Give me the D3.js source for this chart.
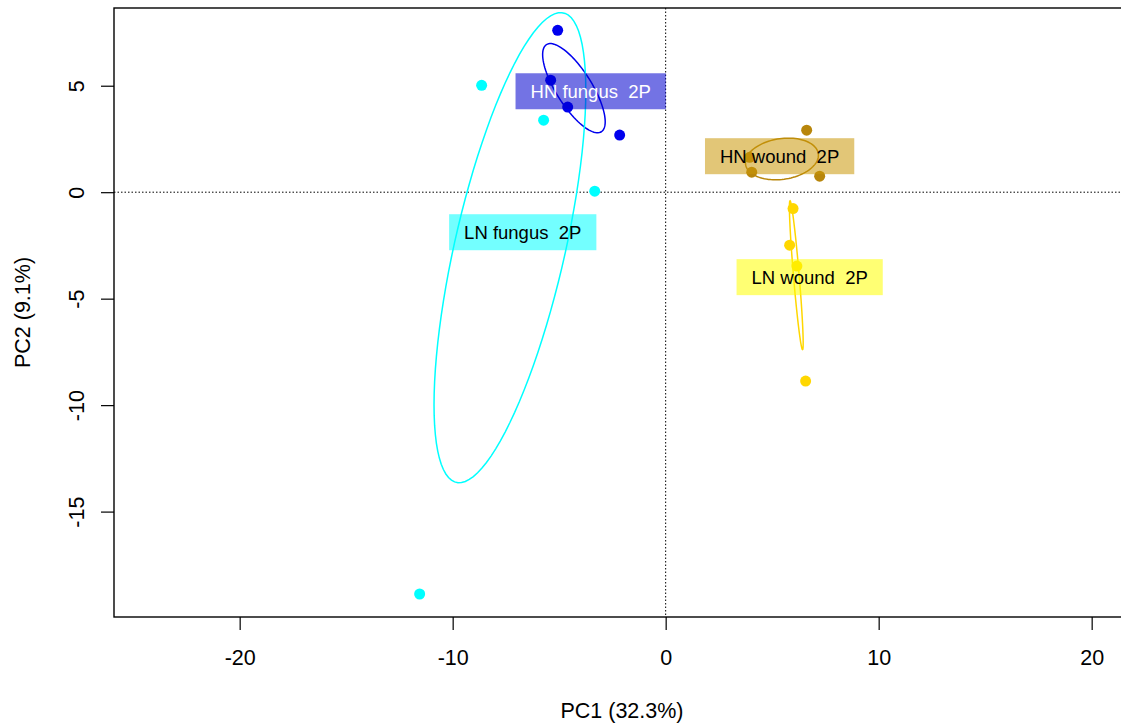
<!DOCTYPE html>
<html lang="en">
<head>
<meta charset="UTF-8">
<title>PCA</title>
<script src="https://cdn.jsdelivr.net/npm/d3@7"></script>
<style>
  body { margin: 0; background: #fff; }
  svg { display: block; font-family: "Liberation Sans", Arial, sans-serif; }
  .lbl { white-space: pre; }
</style>
</head>
<body>
<svg id="chart" width="1121" height="727"></svg>
<script>
// groups
const groups = ["HN fungus", "LN fungus", "HN wound", "LN wound"];
const colors = ["#0000EE", "#00FFFF", "#B8860B", "#FFD700"];
const boxColors = ["#0000CD", "#00FFFF", "#CA9708", "#FFFF00"];
const textColors = ["#ffffff", "#000000", "#000000", "#000000"];

// sample scores, one array per group
const pc1 = [
  [-5.07, -5.40, -4.60, -2.16],
  [-8.64, -5.73, -3.33, -11.55],
  [6.62, 3.94, 4.04, 7.23],
  [5.98, 5.82, 6.16, 6.57]
];
const pc2 = [
  [7.60, 5.26, 4.00, 2.68],
  [5.02, 3.38, 0.05, -18.87],
  [2.91, 1.64, 0.94, 0.75],
  [-0.77, -2.49, -3.47, -8.87]
];

// where the group labels sit (data units)
const labelX = [-3.52, -6.71, 5.35, 6.76];
const labelY = [4.74, -1.88, 1.69, -3.99];

const xTicks = [-20, -10, 0, 10, 20];
const yTicks = [-15, -10, -5, 0, 5];
const xlim = [-25.9, 21.8];
const ylim = [-19.95, 8.65];

const svg = d3.select("#chart");
const mLeft = 114, mTop = 8, mBottom = 617;
const pxPerUnit = 21.3;
const mRight = mLeft + (xlim[1] - xlim[0]) * pxPerUnit;

const x = d3.scaleLinear().domain(xlim).range([mLeft, mRight]);
const y = d3.scaleLinear().domain(ylim).range([mBottom, mTop]);

// crosshair
svg.append("line")
  .attr("x1", x(0)).attr("x2", x(0)).attr("y1", mTop).attr("y2", mBottom)
  .attr("stroke", "#000").attr("stroke-width", 1).attr("stroke-dasharray", "1.5,2");
svg.append("line")
  .attr("x1", mLeft).attr("x2", mRight).attr("y1", y(0)).attr("y2", y(0))
  .attr("stroke", "#000").attr("stroke-width", 1).attr("stroke-dasharray", "1.5,2");

// 1-sd ellipse from the group covariance
function ellipse(xs, ys) {
  const n = xs.length;
  const mx = d3.mean(xs), my = d3.mean(ys);
  let sxx = 0, syy = 0, sxy = 0;
  for (let i = 0; i < n; i++) {
    sxx += (xs[i] - mx) ** 2;
    syy += (ys[i] - my) ** 2;
    sxy += (xs[i] - mx) * (ys[i] - my);
  }
  sxx /= n - 1; syy /= n - 1; sxy /= n - 1;
  // cholesky
  const l11 = Math.sqrt(sxx);
  const l21 = sxy / l11;
  const l22 = Math.sqrt(Math.max(syy - l21 * l21, 0));
  return d3.range(0, 101).map(k => {
    const t = k / 100 * 2 * Math.PI;
    const c = Math.cos(t), s = Math.sin(t);
    return [mx + l11 * c, my + l21 * c + l22 * s];
  });
}

const line = d3.line().x(d => x(d[0])).y(d => y(d[1]));

groups.forEach((g, i) => {
  svg.append("path")
    .attr("d", line(ellipse(pc1[i], pc2[i])))
    .attr("fill", "none")
    .attr("stroke", colors[i])
    .attr("stroke-width", 1.5);
});

groups.forEach((g, i) => {
  svg.selectAll(null)
    .data(d3.range(pc1[i].length))
    .enter().append("circle")
    .attr("cx", k => x(pc1[i][k]))
    .attr("cy", k => y(pc2[i][k]))
    .attr("r", 5.5)
    .attr("fill", colors[i]);
});

// labels
groups.forEach((g, i) => {
  const gg = svg.append("g");
  const t = gg.append("text")
    .attr("class", "lbl")
    .attr("x", x(labelX[i]))
    .attr("y", y(labelY[i]))
    .attr("dy", "0.35em")
    .attr("text-anchor", "middle")
    .attr("font-size", 18.5)
    .attr("fill", textColors[i])
    .text(g + "  2P");
  const w = t.node().getComputedTextLength();
  gg.insert("rect", "text")
    .attr("x", x(labelX[i]) - w / 2 - 15)
    .attr("y", y(labelY[i]) - 18)
    .attr("width", w + 30)
    .attr("height", 36)
    .attr("fill", boxColors[i])
    .attr("fill-opacity", 0.55);
});

// frame
svg.append("rect")
  .attr("x", mLeft).attr("y", mTop)
  .attr("width", mRight - mLeft).attr("height", mBottom - mTop)
  .attr("fill", "none").attr("stroke", "#000").attr("stroke-width", 1.4);

// axes
const fmt = d => String(d);
const xa = svg.append("g")
  .attr("transform", `translate(0,${mBottom})`)
  .call(d3.axisBottom(x).tickValues(xTicks).tickSize(13).tickSizeOuter(0).tickFormat(fmt));
xa.select(".domain").remove();
xa.selectAll("line").attr("stroke-width", 1.2);
xa.selectAll("text")
  .attr("y", 40).attr("dy", "0.35em")
  .attr("font-size", 21.5).attr("font-family", "Liberation Sans, Arial, sans-serif")
  .attr("fill", "#000");

const ya = svg.append("g")
  .attr("transform", `translate(${mLeft},0)`)
  .call(d3.axisLeft(y).tickValues(yTicks).tickSize(13).tickSizeOuter(0).tickFormat(fmt));
ya.select(".domain").remove();
ya.selectAll("line").attr("stroke-width", 1.2);
ya.selectAll("text")
  .attr("x", 0).attr("y", 0).attr("dy", "0.35em")
  .attr("text-anchor", "middle")
  .attr("transform", "translate(-38,0) rotate(-90)")
  .attr("font-size", 21.5).attr("font-family", "Liberation Sans, Arial, sans-serif")
  .attr("fill", "#000");

// titles
svg.append("text")
  .attr("x", (mLeft + mRight) / 2).attr("y", 710).attr("dy", "0.35em")
  .attr("text-anchor", "middle").attr("font-size", 21.5)
  .text("PC1 (32.3%)");
svg.append("text")
  .attr("transform", `translate(22,${(mTop + mBottom) / 2}) rotate(-90)`)
  .attr("dy", "0.35em")
  .attr("text-anchor", "middle").attr("font-size", 21.5)
  .text("PC2 (9.1%)");
</script>
</body>
</html>
